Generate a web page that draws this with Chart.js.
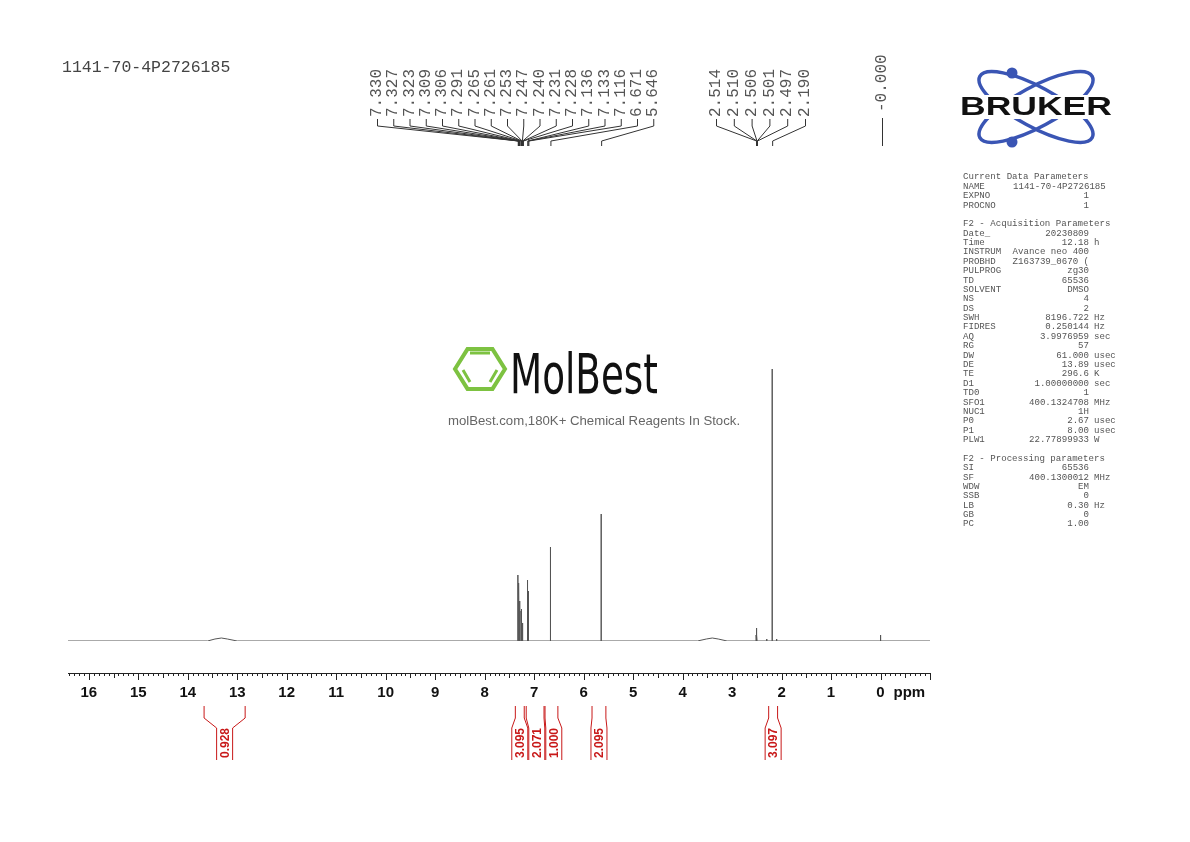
<!DOCTYPE html>
<html>
<head>
<meta charset="utf-8">
<script src="https://cdn.jsdelivr.net/npm/chart.js@4.4.0/dist/chart.umd.min.js"></script>
<style>
  body { margin: 0; background: #fff; }
  #wrap { width: 1190px; height: 842px; position: relative; }
</style>
</head>
<body>
<div id="wrap"><canvas id="nmr" width="1190" height="842"></canvas></div>
<script>
// peak list (ppm) and heights above baseline
const peakPpm = [7.330, 7.327, 7.323, 7.309, 7.306, 7.291, 7.265, 7.261, 7.253, 7.247, 7.240, 7.231, 7.228,
                 7.136, 7.133, 7.116, 6.671, 5.646, 2.514, 2.510, 2.506, 2.501, 2.497, 2.300, 2.190, 2.100, 0.000];
const peakHeight = [60, 66, 58, 52, 57, 40, 30, 32, 28, 22, 18, 14, 12,
                    56, 61, 50, 94, 127, 6, 10, 13, 10, 6, 2, 272, 2, 6];
// broad humps (ppm, height)
const humpPpm = [13.6, 13.45, 13.32, 13.2, 13.0, 3.7, 3.52, 3.4, 3.28, 3.1];
const humpHeight = [0, 2, 3, 2, 0, 0, 2, 3, 2, 0];
// labels printed at top
const labelGroups = [
  ['7.330','7.327','7.323','7.309','7.306','7.291','7.265','7.261','7.253','7.247','7.240','7.231','7.228','7.136','7.133','7.116','6.671','5.646'],
  ['2.514','2.510','2.506','2.501','2.497','2.190'],
  ['-0.000']
];
// integrals: range start, end, value
const integralFrom = [13.67, 7.38, 7.16, 6.78, 5.83, 2.26];
const integralTo   = [12.84, 7.20, 6.80, 6.52, 5.55, 2.08];
const integralValue = ['0.928', '3.095', '2.071', '1.000', '2.095', '3.097'];
const tickLabels = [16, 15, 14, 13, 12, 11, 10, 9, 8, 7, 6, 5, 4, 3, 2, 1, 0];

const params = [
  ['Current Data Parameters'], ['NAME', '1141-70-4P2726185'], ['EXPNO', '1'], ['PROCNO', '1'], [''],
  ['F2 - Acquisition Parameters'], ['Date_', '20230809'], ['Time', '12.18', 'h'], ['INSTRUM', 'Avance neo 400'],
  ['PROBHD', 'Z163739_0670 ('], ['PULPROG', 'zg30'], ['TD', '65536'], ['SOLVENT', 'DMSO'], ['NS', '4'], ['DS', '2'],
  ['SWH', '8196.722', 'Hz'], ['FIDRES', '0.250144', 'Hz'], ['AQ', '3.9976959', 'sec'], ['RG', '57'],
  ['DW', '61.000', 'usec'], ['DE', '13.89', 'usec'], ['TE', '296.6', 'K'], ['D1', '1.00000000', 'sec'], ['TD0', '1'],
  ['SFO1', '400.1324708', 'MHz'], ['NUC1', '1H'], ['P0', '2.67', 'usec'], ['P1', '8.00', 'usec'], ['PLW1', '22.77899933', 'W'], [''],
  ['F2 - Processing parameters'], ['SI', '65536'], ['SF', '400.1300012', 'MHz'], ['WDW', 'EM'], ['SSB', '0'],
  ['LB', '0.30', 'Hz'], ['GB', '0'], ['PC', '1.00']
];

// build spectrum points: baseline + stick-like peaks + humps
const pts = [{x: 16.42, y: 0}, {x: -1.0, y: 0}];
peakPpm.forEach((p, i) => {
  pts.push({x: p + 0.0025, y: 0}, {x: p, y: peakHeight[i]}, {x: p - 0.0025, y: 0});
});
humpPpm.forEach((p, i) => pts.push({x: p, y: humpHeight[i]}));
pts.sort((a, b) => b.x - a.x);

const decor = {
  id: 'decor',
  afterDraw(chart) {
    const ctx = chart.ctx;
    const xs = chart.scales.x;
    const px = v => xs.getPixelForValue(v);
    const mono = '"Liberation Mono", "DejaVu Sans Mono", monospace';
    ctx.save();

    // title top-left
    ctx.fillStyle = '#444';
    ctx.font = '16.5px ' + mono;
    ctx.textAlign = 'left';
    ctx.textBaseline = 'middle';
    ctx.fillText('1141-70-4P2726185', 62, 68);

    // x axis
    const ay = 673;
    ctx.strokeStyle = '#222';
    ctx.lineWidth = 1;
    ctx.beginPath();
    ctx.moveTo(px(16.42), ay + 0.5); ctx.lineTo(px(-1.0), ay + 0.5);
    for (let t = -10; t <= 164; t++) {
      const v = t / 10;
      const len = (t % 10 === 0) ? 7 : (t % 5 === 0 ? 5 : 3);
      const x = Math.round(px(v)) + 0.5;
      ctx.moveTo(x, ay); ctx.lineTo(x, ay + len);
    }
    ctx.stroke();
    ctx.fillStyle = '#111';
    ctx.font = 'bold 15px "Liberation Sans", Arial, sans-serif';
    ctx.textAlign = 'center';
    tickLabels.forEach(v => ctx.fillText(String(v), px(v), 693));
    ctx.textAlign = 'left';
    ctx.fillText('ppm', px(0) + 13, 693);

    // peak labels on top
    ctx.font = '16px ' + mono;
    ctx.fillStyle = '#555';
    ctx.strokeStyle = '#333';
    const slots = [
      {x0: 377, dx: 16.25},
      {x0: 716, dx: 17.8},
      {x0: 882, dx: 0}
    ];
    labelGroups.forEach((g, gi) => {
      g.forEach((lab, li) => {
        const lx = slots[gi].x0 + li * slots[gi].dx;
        const tx = px(Math.abs(parseFloat(lab)));
        ctx.save();
        ctx.translate(lx, gi === 2 ? 112 : 117);
        ctx.rotate(-Math.PI / 2);
        ctx.textAlign = 'left';
        ctx.textBaseline = 'middle';
        ctx.fillText(lab, 0, 0);
        ctx.restore();
        ctx.beginPath();
        if (gi === 2) {
          ctx.moveTo(lx + 0.5, 118); ctx.lineTo(lx + 0.5, 146);
        } else {
          ctx.moveTo(lx + 0.5, 119); ctx.lineTo(lx + 0.5, 126);
          ctx.lineTo(tx + 0.5, 141); ctx.lineTo(tx + 0.5, 146);
        }
        ctx.stroke();
      });
    });

    // integrals
    ctx.strokeStyle = '#c81818';
    ctx.fillStyle = '#c81818';
    ctx.font = 'bold 12px "Liberation Sans", Arial, sans-serif';
    const centers = [];
    integralFrom.forEach((f, i) => centers.push((px(f) + px(integralTo[i])) / 2));
    for (let i = 1; i < centers.length; i++) {
      if (centers[i] - centers[i - 1] < 17) centers[i] = centers[i - 1] + 17;
    }
    integralFrom.forEach((f, i) => {
      const xl = px(f), xr = px(integralTo[i]);
      const c = centers[i];
      ctx.beginPath();
      ctx.moveTo(xl, 706); ctx.lineTo(xl, 718); ctx.lineTo(c - 8, 728); ctx.lineTo(c - 8, 760);
      ctx.moveTo(xr, 706); ctx.lineTo(xr, 718); ctx.lineTo(c + 8, 728); ctx.lineTo(c + 8, 760);
      ctx.stroke();
      ctx.save();
      ctx.translate(c + 1, 743);
      ctx.rotate(-Math.PI / 2);
      ctx.textAlign = 'center';
      ctx.textBaseline = 'middle';
      ctx.fillText(integralValue[i], 0, 0);
      ctx.restore();
    });

    // MolBest watermark
    ctx.strokeStyle = '#7dc241';
    ctx.lineWidth = 4;
    ctx.beginPath();
    const hx = 480, hy = 369, hr = 25;
    for (let k = 0; k < 6; k++) {
      const a = k * Math.PI / 3;
      const X = hx + hr * Math.cos(a), Y = hy + hr * 0.92 * Math.sin(a);
      k ? ctx.lineTo(X, Y) : ctx.moveTo(X, Y);
    }
    ctx.closePath();
    ctx.stroke();
    ctx.lineWidth = 3;
    ctx.beginPath();
    ctx.moveTo(470, 353); ctx.lineTo(490, 353);
    ctx.moveTo(463, 370); ctx.lineTo(470, 382);
    ctx.moveTo(497, 370); ctx.lineTo(490, 382);
    ctx.stroke();
    ctx.fillStyle = '#111';
    ctx.save();
    ctx.translate(510, 393);
    ctx.scale(0.74, 1);
    ctx.font = '56px "DejaVu Sans Condensed", "DejaVu Sans", sans-serif';
    ctx.textAlign = 'left';
    ctx.textBaseline = 'alphabetic';
    ctx.fillText('MolBest', 0, 0);
    ctx.restore();
    ctx.fillStyle = '#666';
    ctx.font = '13.2px "Liberation Sans", Arial, sans-serif';
    ctx.textAlign = 'center';
    ctx.textBaseline = 'middle';
    ctx.fillText('molBest.com,180K+ Chemical Reagents In Stock.', 594, 421);

    // Bruker logo
    ctx.strokeStyle = '#3a55b4';
    ctx.lineWidth = 3.5;
    ctx.beginPath();
    ctx.ellipse(1036, 107, 64, 20, 0.5, 0, Math.PI * 2);
    ctx.stroke();
    ctx.beginPath();
    ctx.ellipse(1036, 107, 64, 20, -0.5, 0, Math.PI * 2);
    ctx.stroke();
    ctx.fillStyle = '#3a55b4';
    ctx.beginPath(); ctx.arc(1012, 73, 5.5, 0, Math.PI * 2); ctx.fill();
    ctx.beginPath(); ctx.arc(1012, 142, 5.5, 0, Math.PI * 2); ctx.fill();
    ctx.fillStyle = '#fff';
    ctx.fillRect(958, 95, 158, 24);
    ctx.fillStyle = '#111';
    ctx.font = 'bold 25px "Liberation Sans", Arial, sans-serif';
    ctx.save();
    ctx.translate(1036, 107);
    ctx.scale(1.42, 1);
    ctx.fillText('BRUKER', 0, 1);
    ctx.restore();

    // acquisition parameters
    ctx.fillStyle = '#555';
    ctx.font = '9.1px ' + mono;
    ctx.textBaseline = 'middle';
    params.forEach((row, i) => {
      const y = 177 + i * 9.38;
      ctx.textAlign = 'left';
      ctx.fillText(row[0], 963, y);
      if (row.length > 1) {
        if (row[0] === 'NAME') {
          ctx.fillText(row[1], 1013, y);
        } else {
          ctx.textAlign = 'right';
          ctx.fillText(row[1], 1089, y);
          if (row[2]) { ctx.textAlign = 'left'; ctx.fillText(row[2], 1094, y); }
        }
      }
    });
    ctx.restore();
  }
};

new Chart(document.getElementById('nmr'), {
  type: 'line',
  data: {
    datasets: [{
      data: pts,
      borderColor: '#555',
      borderWidth: 1,
      pointRadius: 0,
      tension: 0
    }]
  },
  options: {
    responsive: false,
    animation: false,
    layout: { padding: { left: 68, right: 260, top: 100, bottom: 201 } },
    plugins: { legend: { display: false }, tooltip: { enabled: false } },
    scales: {
      x: { type: 'linear', reverse: true, min: -1.0, max: 16.42, display: false },
      y: { min: 0, max: 541, display: false }
    }
  },
  plugins: [decor]
});
</script>
</body>
</html>
